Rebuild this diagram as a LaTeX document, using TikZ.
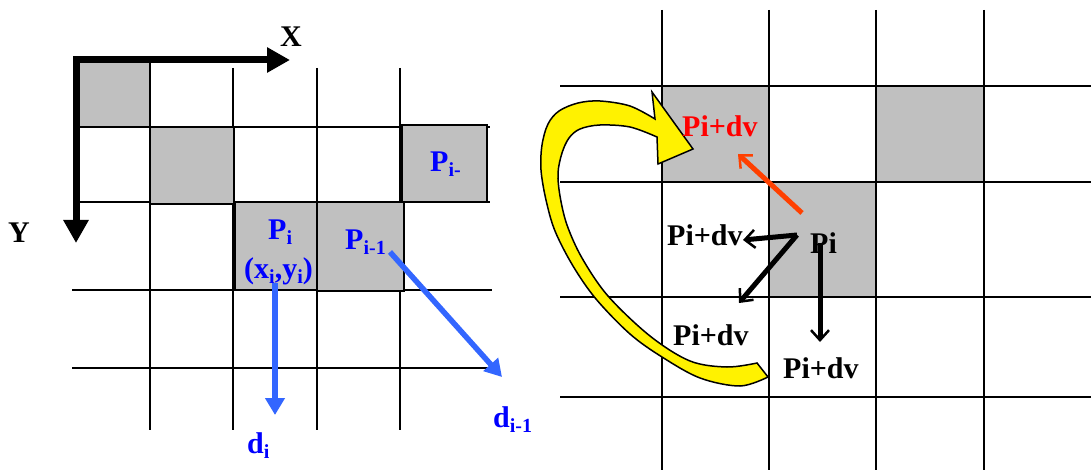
\documentclass[tikz,border=0pt]{standalone}
\usepackage{fontspec}
\setmainfont{Liberation Serif}
\usetikzlibrary{arrows.meta}
\definecolor{cellgray}{RGB}{192,192,192}
\definecolor{arrblue}{RGB}{51,102,255}
\definecolor{lblblue}{RGB}{0,0,255}
\definecolor{arrred}{RGB}{255,64,0}
\definecolor{lblred}{RGB}{255,0,0}
\newcommand\sbx[1]{\raisebox{-5pt}{\fontsize{20}{20}\selectfont #1}}
\begin{document}
\begin{tikzpicture}[x=1pt,y=-1pt,
  gridline/.style={line width=1.5pt},
  cell/.style={fill=cellgray,draw=black,line width=2pt},
  lbl/.style={anchor=base west,inner sep=0pt,font=\fontsize{30}{36}\selectfont\bfseries},
  axis/.style={line width=7pt,line join=miter},
  bluearr/.style={arrblue,line width=5.5pt,-{Triangle[length=17pt,width=19pt]}},
  blackarr/.style={line width=5pt,-{Straight Barb[length=10pt,width=18pt,line width=2.5pt]}},
  redarr/.style={arrred,line width=5pt,-{Straight Barb[length=10pt,width=18pt,line width=2.5pt]}},
  yellowarr/.style={fill=yellow,draw=black,line width=1.5pt,line join=miter}
]
\useasboundingbox (0,0) rectangle (1091,470);

% ---------- left panel ----------
\foreach \x in {150,233,317,400} \draw[gridline] (\x,68) -- (\x,430);
\foreach \y in {127,202} \draw[gridline] (76,\y) -- (490,\y);
\foreach \y in {290,368} \draw[gridline] (72,\y) -- (492,\y);

\draw[cell] (78,62) rectangle (150,127);
\draw[cell] (150,127) rectangle (234,204);
\draw[cell] (402,125) rectangle (487,202);
\draw[cell] (235,202) rectangle (317,290);
\draw[cell] (317,202) rectangle (404,291);

\coordinate (origin) at (76,60);
\coordinate (xend) at (290,60);
\coordinate (yend) at (76,243);
\draw[axis,{Triangle[length=23pt,width=24pt]}-{Triangle[length=23pt,width=24pt]}] (yend) -- (origin) -- (xend);
\node[lbl] (xlab) at (280,47) {X};
\node[lbl] (ylab) at (8,243) {Y};

\node[lbl,lblblue] (pi) at (268,240) {P\sbx{i}};
\node[lbl,lblblue] (xy) at (244,278) {(x\sbx{i},y\sbx{i})};
\node[lbl,lblblue] (pim1) at (345,250) {P\sbx{i-1}};
\node[lbl,lblblue] (pim) at (430,172) {P\sbx{i-}};
\node[lbl,lblblue] (di) at (247,453) {d\sbx{i}};
\node[lbl,lblblue] (dim1) at (493,427) {d\sbx{i-1}};

\coordinate (dis) at (275,283);
\coordinate (die) at (275,415);
\draw[bluearr] (dis) -- (die);
\coordinate (d2s) at (390,252);
\coordinate (d2e) at (502,377);
\draw[bluearr] (d2s) -- (d2e);

% ---------- right panel ----------
\foreach \x in {662,769,876,984} \draw[gridline] (\x,10) -- (\x,470);
\foreach \y in {86,182,297,397} \draw[gridline] (560,\y) -- (1091,\y);
\draw[cell] (662,86) rectangle (769,182);
\draw[cell] (876,86) rectangle (984,182);
\draw[cell] (769,182) rectangle (876,297);

\filldraw[yellowarr] plot[smooth,tension=0.55] coordinates {(768,377) (740,386) (700,378) (662,357) (630,334) (596,299) (573,266) (555,231) (546,200) (541,170) (542,145) (548,124) (559,111) (578,103) (600,101) (630,106) (655,119)}
  -- (652,92) -- (693,149) -- (658,164)
  -- plot[smooth,tension=0.55] coordinates {(657,137) (630,127) (600,125) (580,129) (569,138) (562,153) (558,173) (560,196) (567,225) (582,258) (608,296) (650,336) (690,361) (727,367) (757,363)} -- cycle;

\node[lbl,lblred] (pdvr) at (682,137) {Pi+dv};
\node[lbl] (pdv1) at (667,245) {Pi+dv};
\node[lbl] (pdv2) at (673,345) {Pi+dv};
\node[lbl] (pdv3) at (783,378) {Pi+dv};
\node[lbl] (pic) at (810,253) {Pi};

\coordinate (rs) at (802,213);
\coordinate (re) at (738,154);
\draw[redarr] (rs) -- (re);
\coordinate (pio) at (797,235);
\coordinate (t1) at (743,240);
\coordinate (t2) at (739,303);
\coordinate (p3s) at (820,243);
\coordinate (t3) at (820,342);
\draw[blackarr] (pio) -- (t1);
\draw[blackarr] (pio) -- (t2);
\draw[blackarr] (p3s) -- (t3);
\end{tikzpicture}
\end{document}
